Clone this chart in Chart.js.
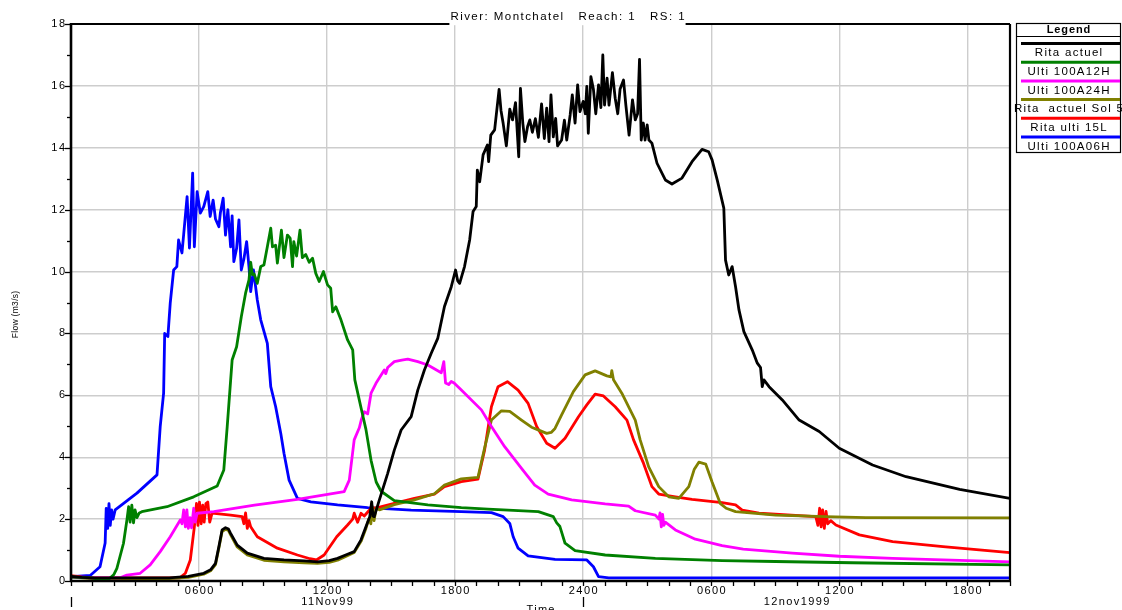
<!DOCTYPE html>
<html>
<head>
<meta charset="utf-8">
<title>Montchatel hydrographs</title>
<script src="https://cdn.jsdelivr.net/npm/chart.js@4/dist/chart.umd.min.js"></script>
<style>
  html, body { margin: 0; padding: 0; background: #ffffff; overflow: hidden; }
  #wrap { width: 1122px; height: 610px; }
</style>
</head>
<body>
<div id="wrap"><canvas id="hydro" width="1122" height="610"></canvas></div>
<script>
// Time axis: hours since 11 Nov 1999 00:00. Flow in m3/s.
const X_TICK_HOURS = [6, 12, 18, 24, 30, 36, 42];
const X_TICK_LABELS = ['0600', '1200', '1800', '2400', '0600', '1200', '1800'];
const DAY_LABELS = ['11Nov99', '12nov1999'];
const DAY_SPANS = [[0, 24], [24, 44]];
const Y_TICKS = [0, 2, 4, 6, 8, 10, 12, 14, 16, 18];

// [hour, flow] pairs for each hydrograph
const RITA_ACTUEL = [
  [0,0.15],[0.5,0.12],[1,0.1],[3,0.1],[4.6,0.1],[5.5,0.15],[6.22,0.25],[6.54,0.36],[6.77,0.57],[6.93,1.11],
  [7.08,1.65],[7.24,1.72],[7.38,1.68],[7.48,1.54],[7.79,1.16],[8.26,0.9],[9.04,0.73],[9.98,0.68],[10.92,0.65],
  [11.55,0.62],[12.1,0.66],[12.49,0.73],[12.9,0.85],[13.27,0.95],[13.59,1.33],[13.82,1.75],[14.0,2.08],[14.09,2.56],
  [14.15,2.1],[14.21,2.08],[14.45,2.62],[14.84,3.48],[15.15,4.23],[15.47,4.88],[15.94,5.31],[16.25,6.17],[16.56,6.82],
  [16.88,7.36],[17.19,7.85],[17.5,8.87],[17.82,9.51],[18.02,10.05],[18.12,9.7],[18.21,9.62],[18.44,10.16],[18.68,11.02],
  [18.84,11.94],[18.99,12.1],[19.04,13.28],[19.15,12.9],[19.31,13.77],[19.51,14.09],[19.57,13.55],[19.67,14.41],
  [19.85,14.58],[20.06,15.89],[20.15,15.2],[20.25,14.79],[20.4,14.06],[20.56,15.25],[20.69,14.9],[20.83,15.46],
  [20.98,13.71],[21.06,15.92],[21.17,14.8],[21.27,14.2],[21.4,14.7],[21.5,14.9],[21.62,14.5],[21.76,14.94],[21.9,14.34],
  [22.05,15.42],[22.18,14.3],[22.29,15.28],[22.4,14.2],[22.49,15.71],[22.6,14.35],[22.71,14.95],[22.8,14.06],[22.99,14.25],
  [23.12,14.89],[23.23,14.25],[23.39,15.06],[23.49,15.71],[23.62,14.8],[23.74,16.03],[23.85,15.17],[24.0,15.5],[24.1,15.1],
  [24.17,15.98],[24.24,14.47],[24.36,16.3],[24.48,15.89],[24.59,15.1],[24.72,16.03],[24.83,15.3],[24.92,17.0],[25.0,15.38],
  [25.12,16.25],[25.21,15.38],[25.37,16.43],[25.5,15.6],[25.62,15.1],[25.73,15.9],[25.89,16.19],[26.0,15.38],[26.15,14.41],
  [26.31,15.55],[26.44,14.9],[26.55,15.1],[26.64,16.86],[26.72,14.25],[26.82,14.8],[26.9,14.25],[27.0,14.74],[27.08,14.25],
  [27.22,14.15],[27.46,13.5],[27.85,12.96],[28.16,12.83],[28.63,13.02],[29.1,13.55],[29.57,13.95],[29.88,13.87],
  [30.04,13.61],[30.28,12.96],[30.59,12.05],[30.67,10.37],[30.82,9.89],[30.98,10.16],[31.14,9.51],[31.3,8.76],
  [31.53,8.06],[31.92,7.47],[32.16,7.04],[32.31,6.9],[32.39,6.28],[32.47,6.5],[32.71,6.28],[33.33,5.85],[34.12,5.2],
  [35.06,4.83],[36.0,4.29],[37.56,3.75],[39.13,3.37],[41.64,2.96],[44,2.67]
];

const ULTI_100A12H = [
  [0,0.13],[1.0,0.1],[1.3,0.05],[1.75,0.05],[2.0,0.2],[2.15,0.41],[2.46,1.22],[2.62,1.97],[2.7,2.4],[2.77,1.9],
  [2.85,2.45],[2.93,1.88],[3.0,2.3],[3.09,2.05],[3.2,2.2],[3.32,2.24],[4.5,2.4],[5.75,2.72],[6.85,3.07],[7.16,3.59],
  [7.32,4.99],[7.55,7.14],[7.76,7.57],[7.98,8.54],[8.18,9.3],[8.34,9.73],[8.42,10.3],[8.5,9.9],[8.58,9.92],[8.73,9.62],
  [8.89,10.16],[9.04,10.21],[9.2,10.8],[9.36,11.4],[9.44,10.8],[9.59,10.85],[9.67,10.27],[9.86,11.34],[9.98,10.45],
  [10.14,11.18],[10.27,11.08],[10.38,10.16],[10.44,10.97],[10.57,10.5],[10.73,11.34],[10.84,10.45],[11.0,10.55],
  [11.16,10.3],[11.32,10.43],[11.47,9.94],[11.63,9.68],[11.83,10.0],[12.02,9.57],[12.17,9.46],[12.26,8.7],[12.41,8.86],
  [12.65,8.44],[12.96,7.79],[13.2,7.47],[13.3,6.5],[13.59,5.6],[13.82,4.9],[14.06,3.9],[14.3,3.2],[14.53,2.9],
  [15.15,2.6],[16.72,2.46],[18.29,2.37],[19.54,2.32],[21.9,2.24],[22.6,2.08],[22.76,1.88],[22.91,1.76],[23.15,1.22],
  [23.62,0.98],[25.03,0.84],[27.38,0.73],[30.51,0.66],[33.0,0.63],[36.6,0.59],[44,0.52]
];

const ULTI_100A24H = [
  [0,0.13],[1,0.1],[2.3,0.1],[2.62,0.19],[3.24,0.25],[3.71,0.52],[4.18,0.95],[4.65,1.43],[5.12,1.97],[5.2,1.85],
  [5.28,2.3],[5.36,1.75],[5.43,2.3],[5.5,1.7],[5.58,2.05],[5.65,1.72],[5.75,2.35],[5.82,1.9],[5.91,2.19],[6.69,2.24],
  [8.6,2.45],[10.61,2.64],[12.8,2.89],[13.04,3.26],[13.27,4.56],[13.51,4.95],[13.6,5.2],[13.74,5.47],[13.9,5.4],
  [14.06,6.07],[14.29,6.39],[14.68,6.82],[14.75,6.7],[14.84,6.9],[15.15,7.09],[15.5,7.14],[15.78,7.17],[16.25,7.09],
  [16.72,6.98],[17.35,6.73],[17.47,7.09],[17.55,6.4],[17.7,6.35],[17.82,6.45],[17.95,6.4],[18.29,6.17],[19.23,5.53],
  [19.7,4.99],[20.32,4.34],[21.11,3.64],[21.73,3.1],[22.36,2.81],[23.46,2.62],[25.03,2.49],[26.13,2.42],[26.44,2.27],
  [27.38,2.13],[27.55,2.0],[27.6,2.2],[27.66,1.75],[27.72,2.15],[27.78,1.8],[27.85,1.9],[28.32,1.65],[29.26,1.35],
  [30.51,1.14],[31.5,1.03],[33.8,0.9],[36,0.8],[38.5,0.73],[44,0.62]
];

const RITA_ACTUEL_SOL5 = [
  [0,0.13],[1,0.08],[4.6,0.08],[5.5,0.12],[6.22,0.22],[6.54,0.33],[6.77,0.53],[6.93,1.07],[7.08,1.6],[7.24,1.67],
  [7.38,1.63],[7.48,1.49],[7.79,1.1],[8.26,0.84],[9.04,0.67],[9.98,0.62],[10.92,0.59],[11.55,0.57],[12.1,0.6],
  [12.49,0.67],[12.9,0.8],[13.27,0.92],[13.59,1.28],[13.82,1.7],[13.95,2.0],[14.05,1.85],[14.12,2.4],[14.2,1.95],
  [14.3,2.35],[14.45,2.3],[15.15,2.47],[16.09,2.62],[17.03,2.82],[17.5,3.1],[18.29,3.3],[19.07,3.35],[19.38,4.3],
  [19.7,5.2],[20.17,5.5],[20.56,5.48],[21.11,5.2],[21.58,4.97],[21.97,4.86],[22.29,4.77],[22.5,4.8],[22.68,4.93],
  [22.99,5.37],[23.54,6.12],[24.09,6.66],[24.56,6.79],[25.11,6.63],[25.3,6.6],[25.34,6.8],[25.42,6.5],[25.81,6.07],
  [26.44,5.2],[26.67,4.56],[27.07,3.69],[27.54,3.05],[28.01,2.72],[28.48,2.67],[28.95,3.05],[29.2,3.6],[29.42,3.84],
  [29.74,3.78],[30.04,3.2],[30.43,2.5],[30.7,2.35],[31.14,2.24],[33.02,2.13],[35.37,2.08],[37.25,2.05],[44,2.04]
];

const RITA_ULTI_15L = [
  [0,0.17],[0.5,0.13],[1,0.1],[5.1,0.1],[5.36,0.25],[5.59,0.68],[5.78,1.75],[5.88,2.51],[5.95,1.8],[6.02,2.55],
  [6.1,1.85],[6.17,2.45],[6.24,1.9],[6.32,2.5],[6.41,2.55],[6.5,1.9],[6.61,2.19],[7.48,2.13],[8.02,2.08],[8.1,1.85],
  [8.18,2.2],[8.26,1.7],[8.34,1.95],[8.42,1.75],[8.73,1.43],[9.67,1.06],[10.61,0.84],[11.2,0.72],[11.5,0.68],
  [11.86,0.84],[12.45,1.43],[12.96,1.81],[13.2,2.0],[13.27,2.19],[13.43,1.9],[13.59,2.19],[13.74,2.1],[14.06,2.35],
  [14.37,2.37],[15.15,2.51],[16.09,2.67],[17.03,2.81],[17.5,3.05],[18.29,3.21],[19.07,3.29],[19.38,4.23],[19.7,5.63],
  [20.01,6.28],[20.45,6.44],[20.95,6.17],[21.42,5.74],[21.82,4.99],[22.29,4.45],[22.68,4.29],[23.15,4.61],[23.78,5.31],
  [24.17,5.69],[24.56,6.04],[24.95,5.98],[25.5,5.63],[26.05,5.2],[26.36,4.56],[26.83,3.8],[27.22,3.05],[27.54,2.81],
  [28.32,2.72],[29.1,2.64],[30.51,2.53],[31.14,2.46],[31.45,2.29],[32.24,2.19],[34.9,2.08],[35.0,1.8],[35.08,2.35],
  [35.15,1.75],[35.22,2.3],[35.3,1.7],[35.38,2.25],[35.46,1.85],[35.6,1.95],[35.84,1.81],[36.94,1.49],[38.5,1.27],
  [40.86,1.11],[44,0.92]
];

const ULTI_100A06H = [
  [0,0.14],[0.9,0.18],[1.36,0.46],[1.6,1.23],[1.65,2.35],[1.72,1.7],[1.78,2.5],[1.84,1.8],[1.9,2.3],[1.97,2.0],
  [2.07,2.3],[3.09,2.84],[4.03,3.43],[4.18,4.99],[4.34,6.07],[4.39,8.0],[4.54,7.9],[4.65,8.98],[4.81,10.05],[4.96,10.16],
  [5.04,11.02],[5.2,10.6],[5.28,11.2],[5.44,12.42],[5.55,10.76],[5.7,13.18],[5.78,10.8],[5.91,12.58],[6.06,11.89],
  [6.22,12.1],[6.41,12.58],[6.52,11.78],[6.66,12.31],[6.77,11.7],[6.93,11.45],[7.0,11.9],[7.13,12.37],[7.24,11.18],
  [7.35,12.0],[7.48,10.8],[7.55,11.8],[7.63,10.32],[7.76,10.75],[7.87,11.67],[7.98,10.05],[8.1,10.4],[8.23,10.97],
  [8.34,10.15],[8.42,9.35],[8.55,10.05],[8.73,9.08],[8.89,8.44],[9.2,7.68],[9.36,6.28],[9.59,5.63],[9.83,4.77],
  [9.98,4.13],[10.22,3.26],[10.61,2.67],[11.24,2.56],[12.49,2.46],[13.9,2.37],[15.94,2.29],[18.29,2.24],[19.7,2.21],
  [20.25,2.08],[20.56,1.86],[20.72,1.43],[20.95,1.06],[21.42,0.81],[22.68,0.7],[24.17,0.68],[24.48,0.46],[24.72,0.14],
  [25.2,0.1],[44,0.1]
];

const SERIES_NAMES = ['Rita actuel', 'Ulti 100A12H', 'Ulti 100A24H', 'Rita  actuel Sol 5', 'Rita ulti 15L', 'Ulti 100A06H'];
const SERIES_DATA = [RITA_ACTUEL, ULTI_100A12H, ULTI_100A24H, RITA_ACTUEL_SOL5, RITA_ULTI_15L, ULTI_100A06H];
const SERIES_COLORS = ['#000000', '#008000', '#ff00ff', '#808000', '#ff0000', '#0000ff'];

const TITLE = 'River: Montchatel   Reach: 1   RS: 1';
const FONT = '"Liberation Sans", Arial, Helvetica, sans-serif';

function drawText(ctx, s, x, y, opts) {
  ctx.save();
  ctx.font = opts.font || ('11px ' + FONT);
  ctx.fillStyle = opts.color || '#000';
  ctx.textBaseline = opts.baseline || 'middle';
  const sp = opts.spacing || 0;
  if ('letterSpacing' in ctx) ctx.letterSpacing = sp + 'px';
  let w = ctx.measureText(s).width;
  if ('letterSpacing' in ctx) w -= sp;      // no trailing gap after last glyph
  let left = x;
  if (opts.align === 'center') left = x - w / 2;
  else if (opts.align === 'right') left = x - w;
  ctx.textAlign = 'left';
  ctx.fillText(s, left, y);
  ctx.restore();
  return { left, width: w };
}

function measure(ctx, s, font, sp) {
  ctx.save();
  ctx.font = font;
  if ('letterSpacing' in ctx) ctx.letterSpacing = sp + 'px';
  let w = ctx.measureText(s).width;
  if ('letterSpacing' in ctx) w -= sp;
  ctx.restore();
  return w;
}

// Frame, tick marks, labels, title and legend, drawn on top of the plot
const decorations = {
  id: 'decorations',
  beforeDraw(chart) {
    const ctx = chart.ctx;
    ctx.save();
    ctx.fillStyle = '#ffffff';
    ctx.fillRect(0, 0, chart.width, chart.height);
    ctx.restore();
  },
  afterDraw(chart) {
    const { ctx, chartArea: a } = chart;
    const xs = chart.scales.x, ys = chart.scales.y;
    ctx.save();
    ctx.strokeStyle = '#000';
    ctx.lineCap = 'butt';

    // plot frame
    ctx.lineWidth = 2.2;
    ctx.beginPath();
    ctx.moveTo(a.left, a.top); ctx.lineTo(a.right, a.top);
    ctx.moveTo(a.right, a.top); ctx.lineTo(a.right, a.bottom);
    ctx.stroke();
    ctx.lineWidth = 2.6;
    ctx.beginPath();
    ctx.moveTo(a.left, a.top - 1); ctx.lineTo(a.left, a.bottom + 1);
    ctx.moveTo(a.left - 1, a.bottom); ctx.lineTo(a.right + 1, a.bottom);
    ctx.stroke();

    // y ticks: labelled every 2, minor every 1
    ctx.lineWidth = 1.3;
    for (let v = ys.min; v <= ys.max; v++) {
      const py = Math.round(ys.getPixelForValue(v)) + 0.5;
      const major = v % 2 === 0;
      ctx.beginPath();
      ctx.moveTo(a.left - (major ? 6 : 4), py);
      ctx.lineTo(a.left, py);
      ctx.stroke();
    }
    Y_TICKS.forEach(v => {
      drawText(ctx, String(v), a.left - 6, ys.getPixelForValue(v), { align: 'right', spacing: 1.4 });
    });

    // x ticks: one per hour
    for (let h = Math.ceil(xs.min); h <= xs.max; h++) {
      const px = Math.round(xs.getPixelForValue(h)) + 0.5;
      ctx.beginPath();
      ctx.moveTo(px, a.bottom);
      ctx.lineTo(px, a.bottom + 5);
      ctx.stroke();
    }
    X_TICK_HOURS.forEach((h, i) => {
      drawText(ctx, X_TICK_LABELS[i], xs.getPixelForValue(h), a.bottom + 10, { align: 'center', spacing: 1.4 });
    });
    DAY_LABELS.forEach((lab, i) => {
      const [d0, d1] = DAY_SPANS[i];
      const cx = (xs.getPixelForValue(d0) + xs.getPixelForValue(d1)) / 2;
      drawText(ctx, lab, cx, a.bottom + 21, { align: 'center', spacing: 1.4 });
      const bx = Math.round(xs.getPixelForValue(d0)) + 0.5;
      ctx.lineWidth = 1.3;
      ctx.beginPath();
      ctx.moveTo(bx, a.bottom + 16);
      ctx.lineTo(bx, a.bottom + 26);
      ctx.stroke();
    });
    drawText(ctx, 'Time', (a.left + a.right) / 2, a.bottom + 23, { align: 'center', baseline: 'top', spacing: 1.3 });

    // y axis title
    ctx.save();
    ctx.translate(16, (a.top + a.bottom) / 2 + 12);
    ctx.rotate(-Math.PI / 2);
    drawText(ctx, 'Flow (m3/s)', 0, 0, { align: 'center', font: '8.5px ' + FONT, spacing: 0.3 });
    ctx.restore();

    // title, breaking the top frame line
    const titleFont = '11.5px ' + FONT;
    const tcx = 567.5;
    const tw = measure(ctx, TITLE, titleFont, 1.45);
    ctx.fillStyle = '#fff';
    ctx.fillRect(tcx - tw / 2 - 1, 8, tw + 2, a.top - 8 + 1.2);
    drawText(ctx, TITLE, tcx, 17, { align: 'center', font: titleFont, spacing: 1.45 });

    // legend box
    const lx0 = 1016, lx1 = 1121, ly0 = 23, ly1 = 153;
    ctx.fillStyle = '#fff';
    ctx.fillRect(lx0, ly0, lx1 - lx0, ly1 - ly0);
    ctx.lineWidth = 1.2;
    ctx.strokeStyle = '#000';
    ctx.strokeRect(lx0 + 0.5, ly0 + 0.5, lx1 - lx0 - 1, ly1 - ly0 - 1);
    const lcx = (lx0 + lx1) / 2;
    drawText(ctx, 'Legend', lcx, 30, { align: 'center', font: 'bold 11px ' + FONT, spacing: 0.9 });
    ctx.beginPath();
    ctx.moveTo(lx0, 36.5); ctx.lineTo(lx1, 36.5);
    ctx.stroke();
    SERIES_NAMES.forEach((name, i) => {
      const ly = 43.5 + i * 18.7;
      ctx.strokeStyle = SERIES_COLORS[i];
      ctx.lineWidth = 3;
      ctx.beginPath();
      ctx.moveTo(lx0 + 5, ly); ctx.lineTo(lx1 - 1, ly);
      ctx.stroke();
      drawText(ctx, name, lcx, ly + 9.6, { align: 'center', font: '11.5px ' + FONT, spacing: 1.3 });
    });
    ctx.restore();
  }
};

const gridStyle = { color: '#cdcdcd', lineWidth: 1.4, drawTicks: false };

new Chart(document.getElementById('hydro'), {
  type: 'line',
  data: {
    datasets: SERIES_DATA.map((pts, i) => ({
      label: SERIES_NAMES[i],
      data: pts.map(([x, y]) => ({ x, y })),
      borderColor: SERIES_COLORS[i],
      backgroundColor: SERIES_COLORS[i],
      borderWidth: 2.8,
      pointRadius: 0,
      tension: 0,
      fill: false,
      borderJoinStyle: 'round'
    }))
  },
  options: {
    responsive: false,
    animation: false,
    events: [],
    layout: { padding: { left: 0, top: 24, right: 112, bottom: 0 } },
    plugins: { legend: { display: false }, tooltip: { enabled: false }, title: { display: false } },
    scales: {
      x: {
        type: 'linear', min: 0, max: 44,
        afterBuildTicks: s => { s.ticks = X_TICK_HOURS.map(v => ({ value: v })); },
        afterFit: s => { s.height = 29; },
        ticks: { display: false },
        grid: gridStyle,
        border: { display: false }
      },
      y: {
        type: 'linear', min: 0, max: 18,
        afterBuildTicks: s => { s.ticks = Y_TICKS.map(v => ({ value: v })); },
        afterFit: s => { s.width = 71; },
        ticks: { display: false },
        grid: gridStyle,
        border: { display: false }
      }
    }
  },
  plugins: [decorations]
});
</script>
</body>
</html>
